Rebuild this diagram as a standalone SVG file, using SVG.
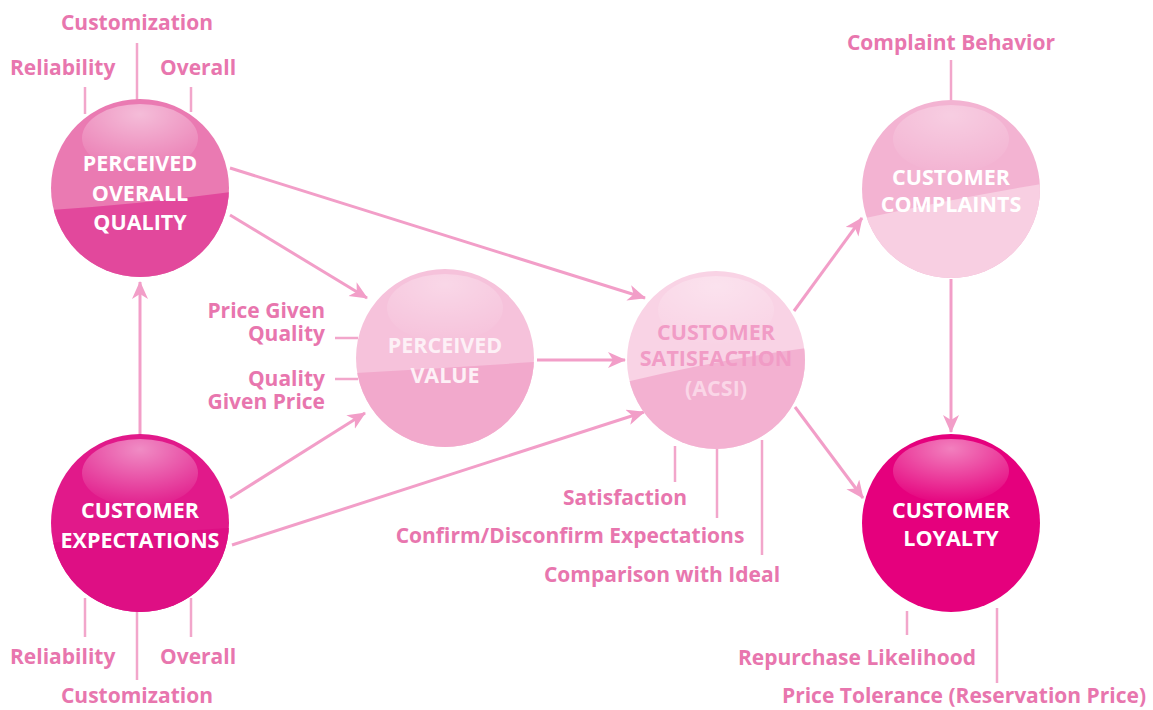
<svg xmlns="http://www.w3.org/2000/svg" width="1153" height="710" viewBox="0 0 1153 710">
<style>
.lbl{font-family:"Open Sans","Liberation Sans",sans-serif;font-weight:700;font-size:21px;fill:#e876ae}
.nt{font-family:"Open Sans","Liberation Sans",sans-serif;font-weight:700;font-size:21.5px;fill:#ffffff;text-anchor:middle}
.tick{stroke:#f2a6cb;stroke-width:2.5;fill:none}
.con{stroke:#f29ec8;stroke-width:3;fill:none;marker-end:url(#ah)}
</style>
<defs>
<marker id="ah" markerUnits="userSpaceOnUse" markerWidth="20" markerHeight="18" refX="17" refY="8" orient="auto">
<path d="M0,0 L18,8 L0,16 L5,8 Z" fill="#f29ec8"/>
</marker>
<clipPath id="cc"><circle cx="0" cy="0" r="89"/></clipPath>
<radialGradient id="hl" cx="0.5" cy="0.15" r="0.85">
<stop offset="0" stop-color="#ffffff" stop-opacity="0.5"/>
<stop offset="1" stop-color="#ffffff" stop-opacity="0.02"/>
</radialGradient>
</defs>
<rect width="1153" height="710" fill="#ffffff"/>

<g id="connectors">
<path class="con" d="M230,168 L645,298"/>
<path class="con" d="M230,215 L367,298"/>
<path class="con" d="M140,436 L140,282"/>
<path class="con" d="M230,498 L365,413"/>
<path class="con" d="M232,545 L644,412"/>
<path class="con" d="M537,360 L625,360"/>
<path class="con" d="M794,311 L862,218"/>
<path class="con" d="M795,407 L863,498"/>
<path class="con" d="M951,279 L951,432"/>
<path class="tick" d="M85,87 V114 M137,43 V100 M191,87 V112"/>
<path class="tick" d="M85,598 V637 M137,611 V680 M191,598 V637"/>
<path class="tick" d="M335,338 H358 M335,379 H358"/>
<path class="tick" d="M675,446 V482 M717,448 V518 M762,440 V555"/>
<path class="tick" d="M951,60 V100"/>
<path class="tick" d="M907,611 V635 M997,608 V683"/>
</g>

<g id="node-quality" transform="translate(140,188)">
<circle r="89" fill="#ea7ab2"/>
<path clip-path="url(#cc)" d="M-90,22 Q0,16 90,4 L90,90 L-90,90 Z" fill="#e2489c"/>
<ellipse cx="0" cy="-50" rx="58" ry="34" fill="url(#hl)"/>
<text class="nt" y="-17">PERCEIVED</text>
<text class="nt" y="13">OVERALL</text>
<text class="nt" y="42">QUALITY</text>
</g>

<g id="node-expectations" transform="translate(140,523)">
<circle r="89" fill="#e1198a"/>
<path clip-path="url(#cc)" d="M-90,20 Q0,10 90,5 L90,90 L-90,90 Z" fill="#de0f84"/>
<ellipse cx="0" cy="-50" rx="58" ry="34" fill="url(#hl)"/>
<text class="nt" y="-5">CUSTOMER</text>
<text class="nt" y="25">EXPECTATIONS</text>
</g>

<g id="node-value" transform="translate(445,358)">
<circle r="89" fill="#f6c2db"/>
<path clip-path="url(#cc)" d="M-90,15 Q0,10 90,4 L90,90 L-90,90 Z" fill="#f2a9cc"/>
<ellipse cx="0" cy="-50" rx="58" ry="34" fill="url(#hl)" opacity="0.7"/>
<text class="nt" y="-5" style="fill:#fdf0f6">PERCEIVED</text>
<text class="nt" y="25" style="fill:#fdf0f6">VALUE</text>
</g>

<g id="node-satisfaction" transform="translate(716,360)">
<circle r="89" fill="#f9d3e5"/>
<path clip-path="url(#cc)" d="M-90,22 Q0,0 90,-12 L90,90 L-90,90 Z" fill="#f3b1d1"/>
<ellipse cx="0" cy="-50" rx="58" ry="34" fill="url(#hl)" opacity="0.7"/>
<text class="nt" y="-20" style="fill:#f19cc6">CUSTOMER</text>
<text class="nt" y="6" style="fill:#f19cc6">SATISFACTION</text>
<text class="nt" y="36" style="fill:#fad6e7">(ACSI)</text>
</g>

<g id="node-complaints" transform="translate(951,189)">
<circle r="89" fill="#f3b3d2"/>
<path clip-path="url(#cc)" d="M-90,30 Q0,10 90,-5 L90,90 L-90,90 Z" fill="#f8cfe2"/>
<ellipse cx="0" cy="-50" rx="58" ry="34" fill="url(#hl)" opacity="0.7"/>
<text class="nt" y="-4">CUSTOMER</text>
<text class="nt" y="23">COMPLAINTS</text>
</g>

<g id="node-loyalty" transform="translate(951,523)">
<circle r="89" fill="#e5007d"/>
<ellipse cx="0" cy="-52" rx="58" ry="32" fill="url(#hl)"/>
<text class="nt" y="-5">CUSTOMER</text>
<text class="nt" y="23">LOYALTY</text>
</g>

<g id="labels">
<text class="lbl" x="137" y="30" text-anchor="middle">Customization</text>
<text class="lbl" x="10" y="75">Reliability</text>
<text class="lbl" x="160" y="75">Overall</text>
<text class="lbl" x="10" y="664">Reliability</text>
<text class="lbl" x="160" y="664">Overall</text>
<text class="lbl" x="137" y="703" text-anchor="middle">Customization</text>
<text class="lbl" text-anchor="end"><tspan x="325" y="318">Price Given</tspan><tspan x="325" y="341">Quality</tspan></text>
<text class="lbl" text-anchor="end"><tspan x="325" y="386">Quality</tspan><tspan x="325" y="409">Given Price</tspan></text>
<text class="lbl" x="625" y="505" text-anchor="middle">Satisfaction</text>
<text class="lbl" x="570" y="543" text-anchor="middle">Confirm/Disconfirm Expectations</text>
<text class="lbl" x="662" y="582" text-anchor="middle">Comparison with Ideal</text>
<text class="lbl" x="951" y="50" text-anchor="middle">Complaint Behavior</text>
<text class="lbl" x="857" y="665" text-anchor="middle">Repurchase Likelihood</text>
<text class="lbl" x="964" y="703" text-anchor="middle">Price Tolerance (Reservation Price)</text>
</g>
</svg>
